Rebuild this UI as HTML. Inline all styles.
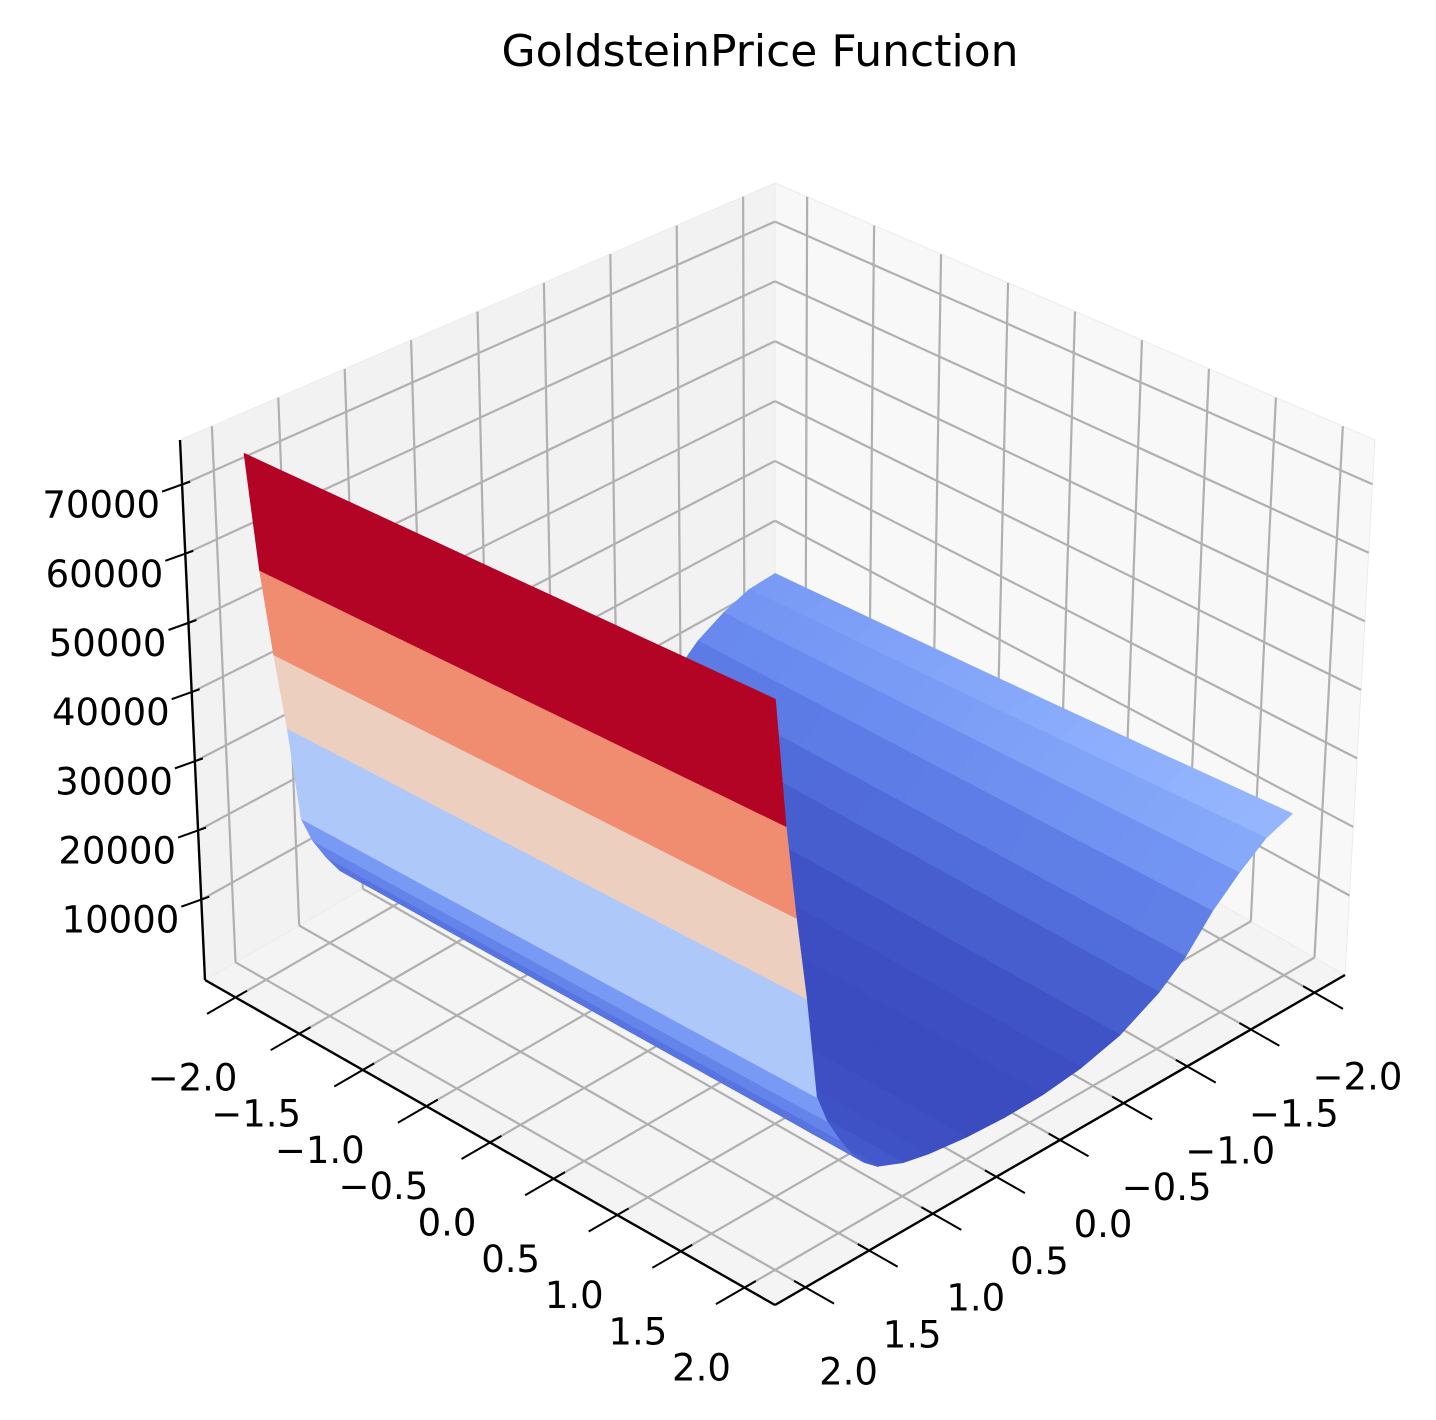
<!DOCTYPE html>
<html><head><meta charset="utf-8"><style>
html,body{margin:0;padding:0;background:#fff;}
svg{display:block;font-family:"DejaVu Sans","Liberation Sans",sans-serif;}
</style></head><body>
<svg id="chart" width="1436" height="1420" viewBox="0 0 1436 1420" xmlns="http://www.w3.org/2000/svg">
<text x="760" y="66" font-size="44" text-anchor="middle" fill="#000">GoldsteinPrice Function</text>
<g id="panes"></g>
<g id="grid"></g>
<g id="surface"></g>
<g id="axes"></g>
</svg>
<script>
// ---- data ----
const aNodes = [-2,-1.8,-1.6,-1.4,-1.2,-1,-0.8,-0.6,-0.4,-0.2,0,0.2,0.4,0.6,0.8,1,1.2,1.4,1.6,1.8,2];
const bNodes = [-2,-1.8,-1.6,-1.4,-1.2,-1,-0.7,-0.4,-0.1,0.2,0.5,0.8,1,1.2,1.3,1.4,1.5,1.6,1.68,1.76,1.84,1.92,2];
const zAlongB = [22000,20500,17500,14000,9500,6500,3500,2000,1300,1200,1500,2200,3000,4500,6000,8000,11000,14500,18500,32500,44000,57000,74600];
const backRatio = [0.76,0.8,0.85,0.9,0.95,1,1,1,1,1,1,1,1,1,1,1,1,1,1,1,1,1,1];
const xyTicks = [-2,-1.5,-1,-0.5,0,0.5,1,1.5,2];
const xyTickLabels = ["\u22122.0","\u22121.5","\u22121.0","\u22120.5","0.0","0.5","1.0","1.5","2.0"];
const zTicks = [10000,20000,30000,40000,50000,60000,70000];
const zTickLabels = ["10000","20000","30000","40000","50000","60000","70000"];

// ---- projection ----
const LO=-2.24, HI=2.24, ZLO=-1600, ZHI=76450;
const BK=[775,650], RT=[1345,975], LF=[205,980];
const Hb=467,Hr=535,Hl=540,Hf=590, Db=0,Dr=30,Dl=-25,Df=0;
function P(s,t,zn){
  const fx=BK[0]+s*(RT[0]-BK[0])+t*(LF[0]-BK[0]);
  const fy=BK[1]+s*(RT[1]-BK[1])+t*(LF[1]-BK[1]);
  const h=Hb*(1-s)*(1-t)+Hr*s*(1-t)+Hl*(1-s)*t+Hf*s*t;
  const d=Db*(1-s)*(1-t)+Dr*s*(1-t)+Dl*(1-s)*t+Df*s*t;
  return [fx+d*zn, fy-h*zn];
}
const sA=a=>(a-LO)/(HI-LO), tB=b=>(b-LO)/(HI-LO), zN=z=>(z-ZLO)/(ZHI-ZLO);
function proj(a,b,z){return P(sA(a),tB(b),zN(z));}
const NS='http://www.w3.org/2000/svg';
function el(tag,attrs,parent){const e=document.createElementNS(NS,tag);for(const k in attrs)e.setAttribute(k,attrs[k]);parent.appendChild(e);return e;}
const pts=arr=>arr.map(p=>p[0].toFixed(1)+','+p[1].toFixed(1)).join(' ');

// ---- panes ----
const panes=document.getElementById('panes');
let pg;
pg=el('polygon',{points:pts([P(0,0,0),P(1,0,0),P(1,1,0),P(0,1,0)]),fill:'#f4f4f4',stroke:'#ececec','stroke-width':1},panes);

pg=el('polygon',{points:pts([P(0,0,0),P(0,1,0),P(0,1,1),P(0,0,1)]),fill:'#f2f2f2',stroke:'#ececec','stroke-width':1},panes);

pg=el('polygon',{points:pts([P(0,0,0),P(1,0,0),P(1,0,1),P(0,0,1)]),fill:'#f8f8f8',stroke:'#ececec','stroke-width':1},panes);


// ---- grid ----
const grid=document.getElementById('grid');
function gl(p,q,name){const l=el('line',{x1:p[0],y1:p[1],x2:q[0],y2:q[1],stroke:'#b0b0b0','stroke-width':2.2},grid);
}
xyTicks.forEach(v=>{
  gl(P(sA(v),0,0),P(sA(v),1,0),'floor-grid-a');
  gl(P(0,tB(v),0),P(1,tB(v),0),'floor-grid-b');
  gl(P(0,tB(v),0),P(0,tB(v),1),'left-pane-grid-b');
  gl(P(sA(v),0,0),P(sA(v),0,1),'right-pane-grid-a');
});
zTicks.forEach(z=>{
  gl(P(0,0,zN(z)),P(0,1,zN(z)),'left-pane-grid-z');
  gl(P(0,0,zN(z)),P(1,0,zN(z)),'right-pane-grid-z');
});

// ---- colormap ----
const cmStops=[[0,[59,76,192]],[0.1,[80,107,218]],[0.2,[106,139,239]],[0.3,[146,180,254]],[0.4,[183,207,249]],[0.5,[221,220,220]],[0.6,[242,202,181]],[0.7,[246,163,133]],[0.8,[236,127,99]],[0.9,[212,78,65]],[1,[180,4,38]]];
function cmap(v){v=Math.max(0,Math.min(1,v));for(let i=1;i<cmStops.length;i++){if(v<=cmStops[i][0]){const a=cmStops[i-1],b=cmStops[i];const f=(v-a[0])/(b[0]-a[0]);const c=a[1].map((x,k)=>Math.round(x+(b[1][k]-x)*f));return 'rgb('+c.join(',')+')';}}return 'rgb(180,4,38)';}

// ---- surface ----
function zAt(i,j){const r=backRatio[j];const w=(aNodes[i]-aNodes[0])/(aNodes[aNodes.length-1]-aNodes[0]);return zAlongB[j]*(r+(1-r)*w);}
const quads=[];
for(let i=0;i<aNodes.length-1;i++)for(let j=0;j<bNodes.length-1;j++){
  const c=[[i,j],[i+1,j],[i+1,j+1],[i,j+1]];
  const zs=c.map(([a,b])=>zAt(a,b));
  const avg=zs.reduce((x,y)=>x+y,0)/4;
  const ps=c.map(([a,b],k)=>proj(aNodes[a],bNodes[b],zs[k]));
  const sm=(sA(aNodes[i])+sA(aNodes[i+1]))/2, tm=(tB(bNodes[j])+tB(bNodes[j+1]))/2;
  quads.push({ps,avg,depth:(sm+tm)*0.612+zN(avg)*0.5});
}
const avgs=quads.map(q=>q.avg);const amin=Math.min(...avgs),amax=Math.max(...avgs);
quads.sort((a,b)=>a.depth-b.depth);
const surf=document.getElementById('surface');
quads.forEach(q=>{const col=cmap((q.avg-amin)/(amax-amin));
  const p=el('polygon',{points:pts(q.ps),fill:col,stroke:col,'stroke-width':1.2,'stroke-linejoin':'round'},surf);
  
  
});

// ---- axes ----
const ax=document.getElementById('axes');
function al(p,q,name,w){const l=el('line',{x1:p[0],y1:p[1],x2:q[0],y2:q[1],stroke:'#000','stroke-width':w||2.4},ax);
}
al(P(0,1,0),P(1,1,0),'x-axis-line');
al(P(1,0,0),P(1,1,0),'y-axis-line');
al(P(0,1,0),P(0,1,1),'z-axis-line');
function tx(x,y,s,name,anchor){const t=el('text',{x:x,y:y,'font-size':37,'text-anchor':anchor||'middle',fill:'#000'},ax);t.textContent=s;
}
xyTicks.forEach((v,k)=>{
  const p=P(sA(v),1,0), po=P(sA(v),1.05,0), pi=P(sA(v),0.98,0);
  al(pi,po,'x-tick',2);
  tx(p[0]-43,p[1]+80+13,xyTickLabels[k],'x-tick-label');
  const q=P(1,tB(v),0), qo=P(1.05,tB(v),0), qi=P(0.98,tB(v),0);
  al(qi,qo,'y-tick',2);
  tx(q[0]+43,q[1]+84+13,xyTickLabels[k],'y-tick-label');
});
zTicks.forEach((z,k)=>{
  const p=P(0,1,zN(z));
  al([p[0]+8,p[1]-3],[p[0]-20,p[1]+7],'z-tick',2);
  tx(p[0]-22,p[1]+20+13,zTickLabels[k],'z-tick-label','end');
});
</script>
</body></html>
